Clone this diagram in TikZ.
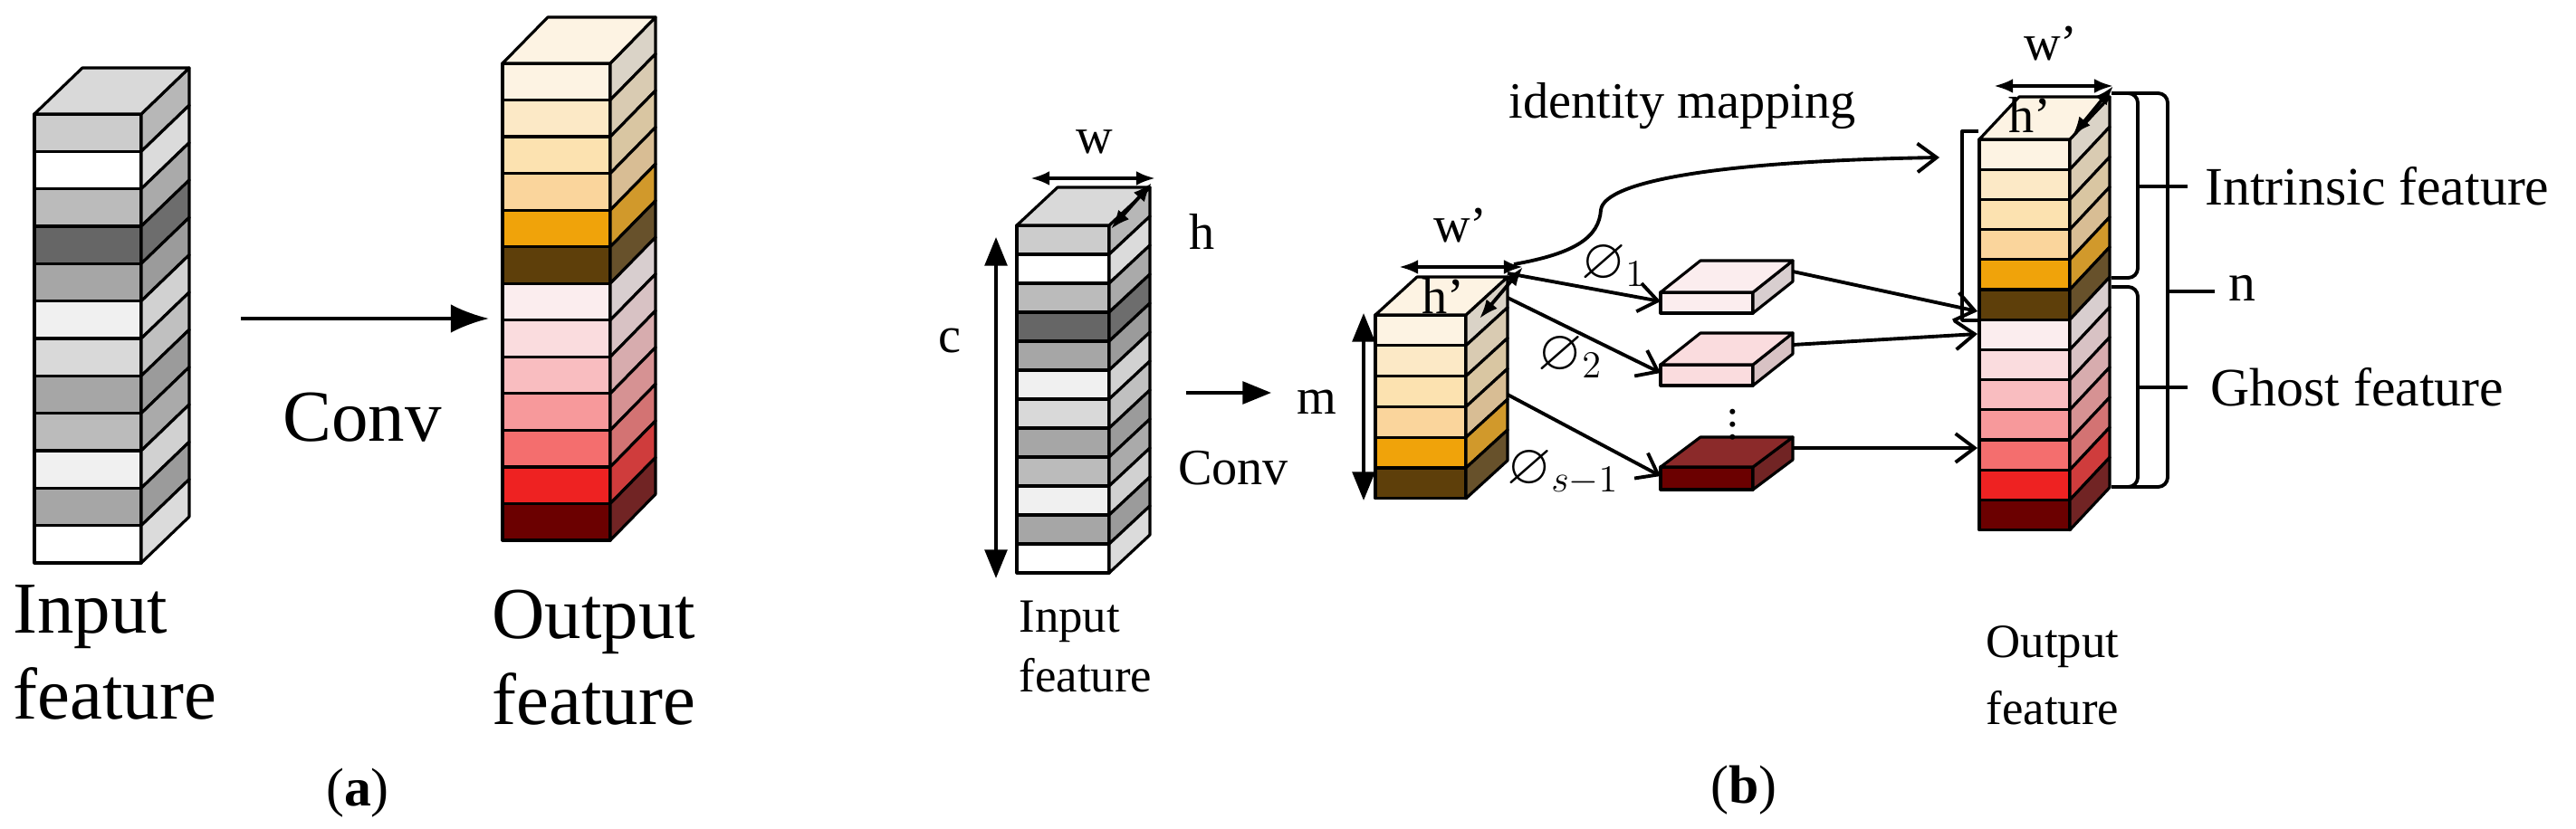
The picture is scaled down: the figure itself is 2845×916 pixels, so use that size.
\documentclass[tikz,border=0pt]{standalone}
\usepackage{amssymb}
\usepackage{fontspec}
\setmainfont{Liberation Serif}
\usetikzlibrary{arrows.meta}
\definecolor{g1}{HTML}{CCCCCC}\definecolor{g2}{HTML}{BBBBBB}\definecolor{g3}{HTML}{666666}
\definecolor{g4}{HTML}{A6A6A6}\definecolor{g5}{HTML}{F0F0F0}\definecolor{g6}{HTML}{D9D9D9}
\definecolor{o1}{HTML}{FDF3E3}\definecolor{o2}{HTML}{FCE9C6}\definecolor{o3}{HTML}{FCE2B0}
\definecolor{o4}{HTML}{FAD59C}\definecolor{o5}{HTML}{F0A30A}\definecolor{o6}{HTML}{5E3F0A}
\definecolor{r1}{HTML}{FBEDEE}\definecolor{r2}{HTML}{FADCDE}\definecolor{r3}{HTML}{F9BDC0}
\definecolor{r4}{HTML}{F7999B}\definecolor{r5}{HTML}{F46E6E}\definecolor{r6}{HTML}{EE2222}
\definecolor{r7}{HTML}{6B0000}\definecolor{r7t}{HTML}{8B2A2A}
\newcommand\fstack[8]{% x, ytop, w, layer h, dx, dy, colours, top colour
  \foreach \c [count=\i from 0] in {#7} {
    \draw[fill=\c] (#1,#2+\i*#4) rectangle (#1+#3,#2+\i*#4+#4);
    \draw[fill=\c!72!gray] (#1+#3,#2+\i*#4) -- ++(#5,-#6) -- ++(0,#4) -- (#1+#3,#2+\i*#4+#4) -- cycle;
  }
  \draw[fill=#8] (#1,#2) -- ++(#5,-#6) -- ++(#3,0) -- (#1+#3,#2) -- cycle;
}
\begin{document}
\begin{tikzpicture}[x=0.01cm,y=-0.01cm,line width=0.9pt,line join=round,
  arr/.style={line width=1.1pt,-{Straight Barb[length=6pt,width=9pt]}},
  dim/.style={line width=1.1pt,{Latex[length=6pt]}-{Latex[length=6pt]}},
  bra/.style={line width=1.1pt,rounded corners=3pt},
  la/.style={font=\fontsize{23}{27}\selectfont},
  lb/.style={font=\fontsize{16}{20}\selectfont},
  lab/.style={font=\fontsize{17}{20}\selectfont},
  phi/.style={font=\fontsize{18}{20}\selectfont,inner sep=1pt}]
\useasboundingbox (0,0) rectangle (2845,916);
% ---------- (a)
\fstack{38}{126}{118}{41.33}{53}{51}{g1,white,g2,g3,g4,g5,g6,g4,g2,g5,g4,white}{g6}
\fstack{555}{70}{119}{40.54}{50}{51}{o1,o2,o3,o4,o5,o6,r1,r2,r3,r4,r5,r6,r7}{o1}
\coordinate (a1) at (266,352); \coordinate (a2) at (540,352);
\draw[line width=1.1pt,-{Latex[length=12pt,width=9pt]}] (a1) -- (a2);
\node[la] (conva) at (400,461) {Conv};
\node[la,anchor=north west,align=left,inner sep=0pt] (ina) at (13,645) {Input\\feature};
\node[la,anchor=north west,align=left,inner sep=0pt] (outa) at (542,650) {Output\\feature};
\node[font=\fontsize{17}{20}\selectfont] (capa) at (395,876) {(\textbf{a})};
% ---------- (b) input
\fstack{1123}{249}{102}{32}{45}{42}{g1,white,g2,g3,g4,g5,g6,g4,g2,g5,g4,white}{g6}
\coordinate (w1) at (1138,197); \coordinate (w2) at (1276,197);
\draw[dim] (w1) -- (w2);
\node[lb] (w) at (1209,157) {w};
\coordinate (h1) at (1272,202); \coordinate (h2) at (1227,253);
\draw[dim] (h1) -- (h2);
\node[lb] (h) at (1328,256) {h};
\coordinate (c1) at (1100,262); \coordinate (c2) at (1100,639);
\draw[line width=1.1pt,{Triangle[length=9pt,width=7pt]}-{Triangle[length=9pt,width=7pt]}] (c1) -- (c2);
\node[lb] (c) at (1049,377) {c};
\coordinate (cv1) at (1310,434); \coordinate (cv2) at (1404,434);
\draw[line width=1.1pt,-{Triangle[length=9pt,width=7pt]}] (cv1) -- (cv2);
\node[lb] (convb) at (1362,517) {Conv};
\node[lb,anchor=north west,align=left,inner sep=0pt,font=\fontsize{15}{19}\selectfont] (inb) at (1124,662) {Input\\feature};
% ---------- (b) m stack
\fstack{1519}{348}{100}{33.8}{46}{42}{o1,o2,o3,o4,o5,o6}{o1}
\coordinate (m1) at (1506,346); \coordinate (m2) at (1506,553);
\draw[line width=1.1pt,{Triangle[length=9pt,width=7pt]}-{Triangle[length=9pt,width=7pt]}] (m1) -- (m2);
\node[lb] (m) at (1454,444) {m};
\coordinate (wp1) at (1545,295); \coordinate (wp2) at (1682,295);
\draw[dim] (wp1) -- (wp2);
\node[lb] (wp) at (1613,249) {w'};
\coordinate (hp2) at (1634,352);
\draw[dim] (wp2) -- (hp2);
\node[lb] (hp) at (1594,327) {h'};
% ---------- small boxes
\fstack{1834}{323}{102}{23}{44}{35}{r1}{r1}
\fstack{1834}{403}{102}{23}{44}{35}{r2}{r2}
\fstack{1834}{516}{102}{25}{44}{33}{r7}{r7t}
\node[font=\Large,inner sep=0pt] (dots) at (1914,459) {$\vdots$};
\coordinate (src) at (1665,302);
\coordinate (s2) at (1665,329); \coordinate (s3) at (1665,436);
\coordinate (b1in) at (1834,333); \coordinate (b2in) at (1834,412); \coordinate (b3in) at (1834,526);
\draw[arr] (src) -- (b1in);
\draw[arr] (s2) -- (b2in);
\draw[arr] (s3) -- (b3in);
\node[phi] (p1) at (1782,294) {$\varnothing_1$};
\node[phi] (p2) at (1734,395) {$\varnothing_2$};
\node[phi] (p3) at (1726,522) {$\varnothing_{s-1}$};
% ---------- output stack
\fstack{2186}{154}{100}{33.2}{44}{47}{o1,o2,o3,o4,o5,o6,r1,r2,r3,r4,r5,r6,r7}{o1}
\coordinate (b1out) at (1980,300); \coordinate (b2out) at (1980,381); \coordinate (b3out) at (1980,495);
\coordinate (o1in) at (2184,344); \coordinate (o2in) at (2184,369); \coordinate (o3in) at (2184,495);
\draw[arr] (b1out) -- (o1in);
\draw[arr] (b2out) -- (o2in);
\draw[arr] (b3out) -- (o3in);
% identity mapping
\coordinate (idend) at (2142,174);
\draw[arr] (1672,292) .. controls (1740,280) and (1766,262) .. (1768,232) .. controls (1772,200) and (1900,178) .. (idend);
\node[lb] (idm) at (1858,117) {identity mapping};
\draw[line width=1.1pt] (2185,145) -- (2167,145) -- (2167,354) -- (2185,354);
\coordinate (wq1) at (2202,95); \coordinate (wq2) at (2334,95); \coordinate (hq2) at (2289,150);
\draw[dim] (wq1) -- (wq2);
\draw[dim] (wq2) -- (hq2);
\node[lb] (wq) at (2265,48) {w'};
\node[lb] (hq) at (2242,127) {h'};
% braces
\draw[bra] (2332,103) -- (2394,103) -- (2394,538) -- (2332,538);
\draw[bra] (2332,103) -- (2361,103) -- (2361,307) -- (2332,307);
\draw[bra] (2332,317) -- (2361,317) -- (2361,538) -- (2332,538);
\draw[line width=1.1pt] (2361,206) -- (2416,206);
\draw[line width=1.1pt] (2394,322) -- (2446,322);
\draw[line width=1.1pt] (2361,428) -- (2416,428);
\node[lab,anchor=west] (intr) at (2422,206) {Intrinsic feature};
\node[lab,anchor=west] (nn) at (2448,318) {n};
\node[lab,anchor=west] (gh) at (2428,428) {Ghost feature};
\node[lb,anchor=north west,align=left,inner sep=0pt,font=\fontsize{15}{21}\selectfont] (outb) at (2192,690) {Output\\feature};
\node[font=\fontsize{17}{20}\selectfont] (capb) at (1926,873) {(\textbf{b})};
\end{tikzpicture}
\end{document}
